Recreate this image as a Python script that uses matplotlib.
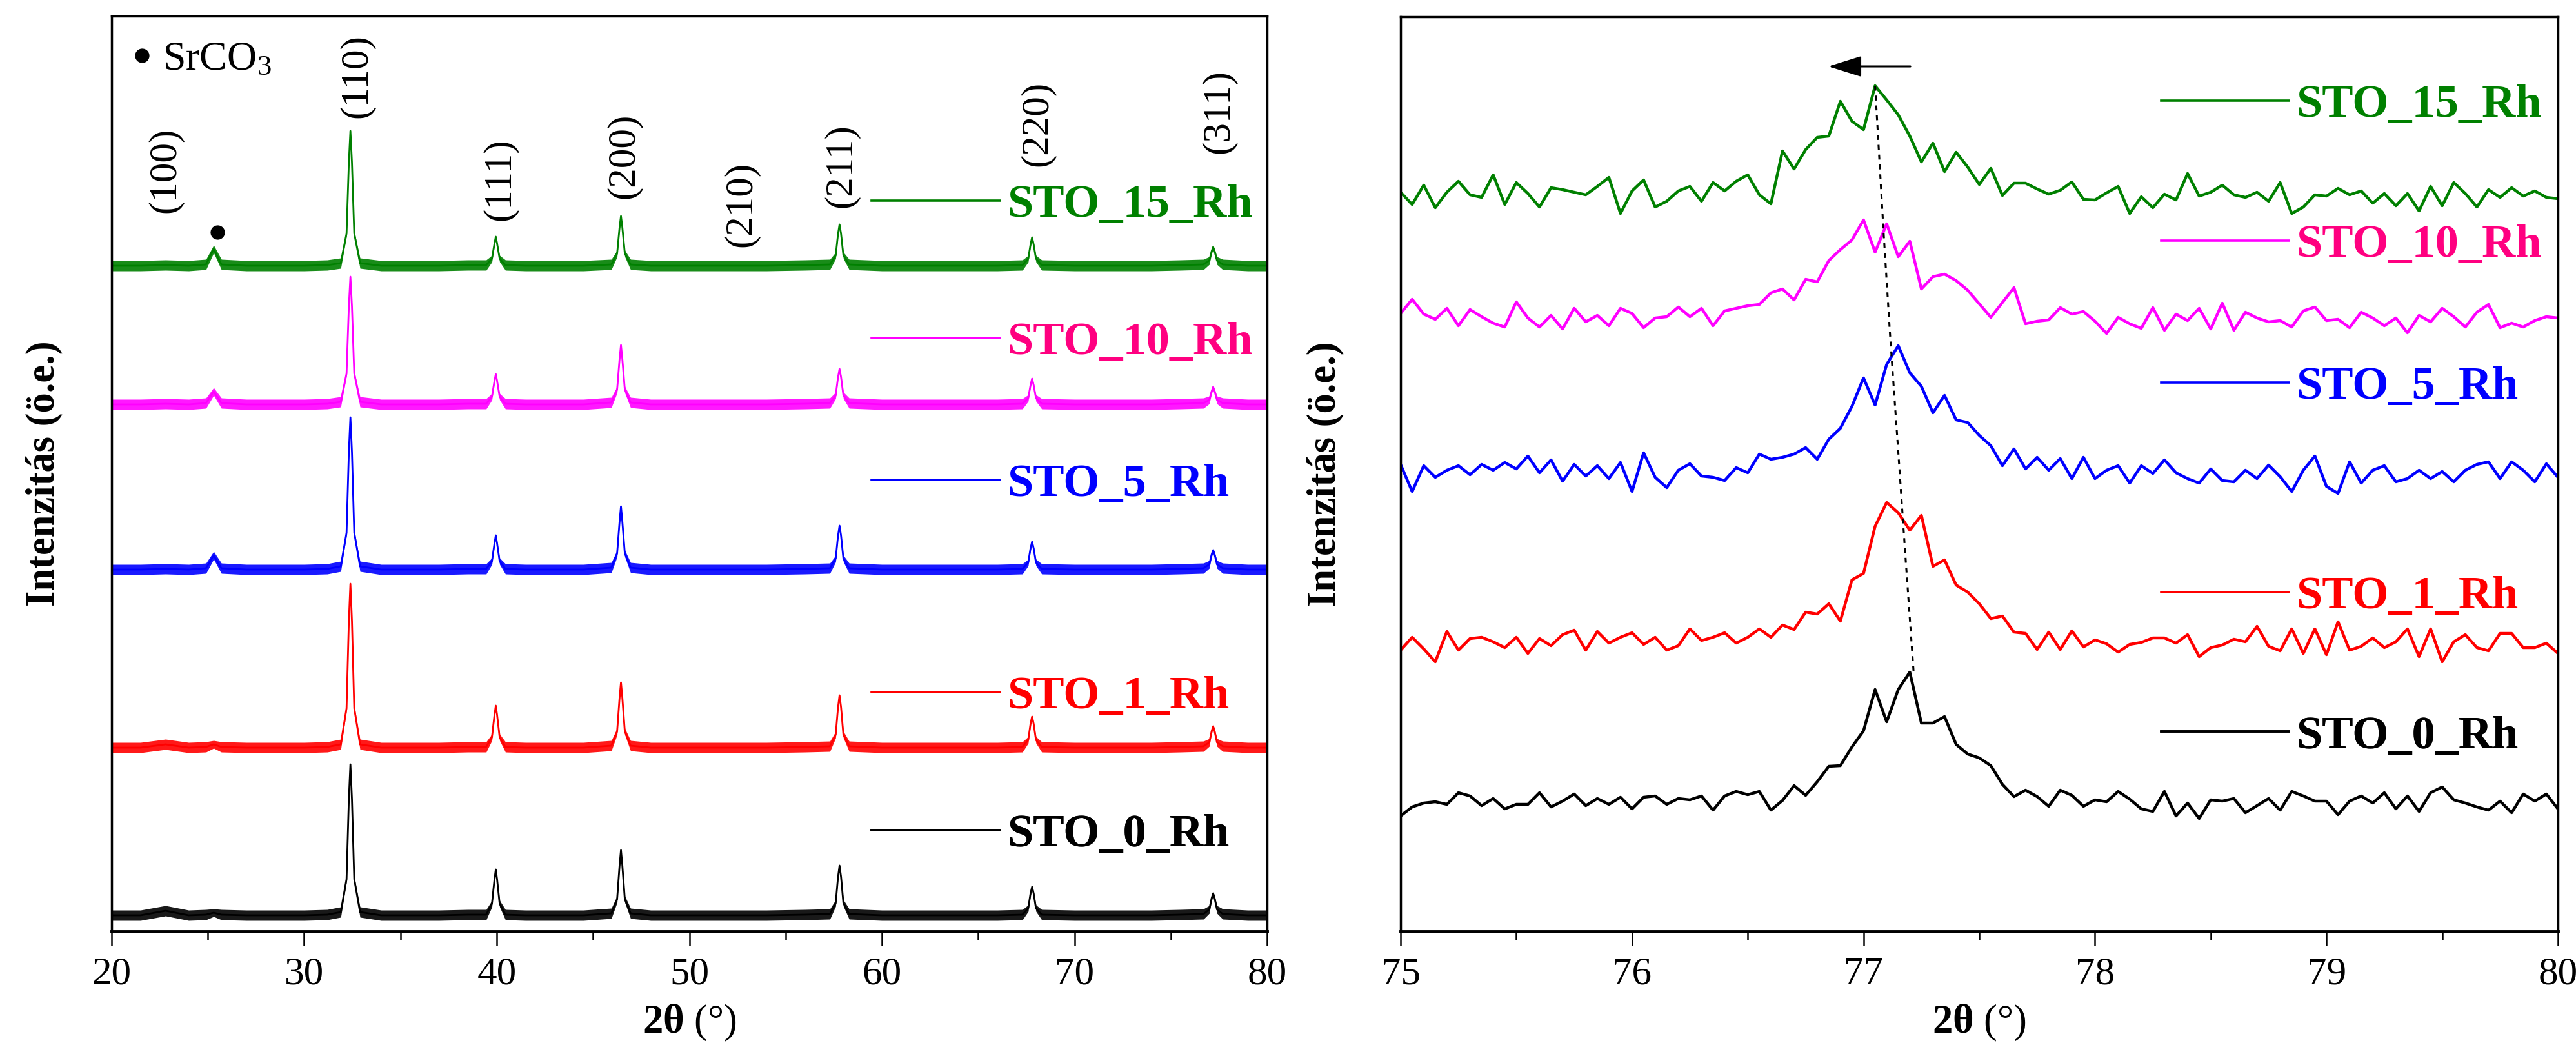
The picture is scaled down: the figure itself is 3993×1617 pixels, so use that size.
import matplotlib
matplotlib.use("Agg")
from matplotlib import pyplot as plt
from matplotlib.lines import Line2D
from matplotlib.ticker import MultipleLocator
import numpy as np

plt.rcParams['font.family'] = ['Liberation Serif', 'DejaVu Serif']
plt.rcParams['mathtext.fontset'] = 'custom'
plt.rcParams['mathtext.rm'] = 'Liberation Serif'
plt.rcParams['mathtext.it'] = 'Liberation Serif:italic'
plt.rcParams['mathtext.bf'] = 'Liberation Serif:bold'

names = ["STO_15_Rh", "STO_10_Rh", "STO_5_Rh", "STO_1_Rh", "STO_0_Rh"]
line_colors = ["#008000", "#FF00FF", "#0000FF", "#FF0000", "#000000"]
text_colors = ["#008000", "#FF0080", "#0000FF", "#FF0000", "#000000"]

# ---- full scan 20-80 deg (heights above each baseline)
wide_x = [20.0, 21.5, 22.8, 24.0, 24.9, 25.3, 25.7, 27.0, 28.5, 30.0, 31.2,
          31.9, 32.2, 32.32, 32.4, 32.48, 32.6, 32.9,
          34.0, 35.5, 37.0, 38.5, 39.45, 39.75, 39.88, 39.95, 40.02, 40.15, 40.45,
          41.5, 43.0, 44.5, 45.95, 46.25, 46.38, 46.45, 46.52, 46.65, 46.95,
          48.0, 50.0, 52.0, 54.0, 56.0, 57.3, 57.6, 57.72, 57.8, 57.88, 58.0, 58.3,
          60.0, 62.0, 64.0, 66.0, 67.3, 67.6, 67.72, 67.8, 67.88, 68.0, 68.3,
          70.0, 72.0, 74.0, 75.5, 76.7, 77.0, 77.12, 77.2, 77.28, 77.4, 77.7, 79.0, 80.0]
wide_15 = [0, 0, 1, 0, 2, 26, 2, 0, 0, 0, 1,
           4, 50, 160, 209, 160, 50, 4,
           0, 0, 0, 1, 1, 11, 34, 45, 34, 11, 1,
           0, 0, 0, 2, 19, 60, 77, 60, 19, 2,
           0, 0, 0, 0, 1, 2, 16, 49, 64, 49, 16, 2,
           0, 0, 0, 0, 1, 11, 33, 44, 33, 11, 1,
           0, 0, 0, 1, 2, 8, 22, 29, 22, 8, 2, 0, 0]
wide_10 = [0, 0, 1, 0, 2, 20, 2, 0, 0, 0, 1,
           4, 48, 152, 198, 152, 48, 4,
           0, 0, 0, 1, 1, 12, 36, 47, 36, 12, 1,
           0, 0, 0, 3, 23, 71, 92, 71, 23, 3,
           0, 0, 0, 0, 1, 2, 14, 42, 55, 42, 14, 2,
           0, 0, 0, 0, 1, 10, 30, 40, 30, 10, 1,
           0, 0, 0, 1, 2, 7, 20, 27, 20, 7, 2, 0, 0]
wide_5 = [0, 0, 1, 0, 2, 22, 2, 0, 0, 0, 1,
          5, 57, 182, 236, 182, 57, 5,
          0, 0, 0, 1, 1, 13, 40, 53, 40, 13, 1,
          0, 0, 0, 3, 25, 75, 98, 75, 25, 3,
          0, 0, 0, 0, 1, 2, 17, 52, 68, 52, 17, 2,
          0, 0, 0, 0, 1, 11, 33, 43, 33, 11, 1,
          0, 0, 0, 1, 2, 8, 23, 30, 23, 8, 2, 0, 0]
wide_1 = [0, 0, 5, 0, 1, 5, 1, 0, 0, 0, 1,
          5, 61, 196, 254, 196, 61, 5,
          0, 0, 0, 1, 1, 16, 50, 65, 50, 16, 1,
          0, 0, 0, 3, 25, 78, 101, 78, 25, 3,
          0, 0, 0, 0, 1, 2, 20, 62, 81, 62, 20, 2,
          0, 0, 0, 0, 1, 12, 37, 48, 37, 12, 1,
          0, 0, 0, 1, 2, 8, 25, 33, 25, 8, 2, 0, 0]
wide_0 = [0, 0, 7, 0, 1, 4, 1, 0, 0, 0, 1,
          5, 56, 180, 234, 180, 56, 5,
          0, 0, 0, 1, 1, 18, 55, 71, 55, 18, 1,
          0, 0, 0, 3, 25, 78, 101, 78, 25, 3,
          0, 0, 0, 0, 1, 2, 19, 59, 77, 59, 19, 2,
          0, 0, 0, 0, 1, 11, 34, 44, 34, 11, 1,
          0, 0, 0, 1, 2, 9, 26, 34, 26, 9, 2, 0, 0]
# half width of the noise band around each trace
wide_noise = [8, 8, 8, 8, 8, 6, 8, 8, 8, 8, 8,
              8, 4, 2, 1, 2, 4, 8,
              8, 8, 8, 8, 8, 5, 3, 2, 3, 5, 8,
              8, 8, 8, 8, 5, 3, 2, 3, 5, 8,
              8, 8, 8, 8, 8, 8, 5, 3, 2, 3, 5, 8,
              8, 8, 8, 8, 8, 5, 3, 2, 3, 5, 8,
              8, 8, 8, 8, 8, 6, 4, 3, 4, 6, 8, 8, 8]
wide_offset = [1032, 817, 561, 285, 25]

hkl_labels = ["(100)", "(110)", "(111)", "(200)", "(210)", "(211)", "(220)", "(311)"]
hkl_x = [22.8, 32.74, 40.2, 46.6, 52.7, 57.9, 68.1, 77.5]
hkl_y = [1114, 1261, 1102, 1136, 1061, 1122, 1186, 1206]
srco3_x = 25.5
srco3_y = 1084

# ---- zoomed scan 75-80 deg, step 0.05
zoom_x = np.round(np.arange(75.0, 80.001, 0.05), 2)
zoom_15 = [4, -15, 15, -20, 4, 21, 0, -4, 31, -15,
           19, 2, -19, 11, 8, 4, 0, 13, 27, -29,
           6, 23, -19, -10, 6, 13, -10, 19, 6, 21,
           31, 0, -14, 68, 40, 70, 89, 91, 145, 114,
           101, 169, 147, 124, 91, 51, 80, 36, 66, 43,
           16, 41, -1, 18, 18, 9, 1, 7, 20, -7,
           -8, 3, 13, -29, -3, -20, 1, -8, 33, -2,
           4, 15, 0, -4, 4, -10, 19, -29, -19, 0,
           -2, 10, 0, 6, -13, 2, -17, 2, -25, 13,
           -17, 19, 2, -19, 8, -4, 11, -2, 6, -4, -6]
zoom_10 = [11, 33, 10, 2, 19, -8, 17, 6, -4, -10,
           29, 4, -10, 8, -13, 19, -2, 8, -8, 19,
           11, -11, 4, 6, 21, 6, 19, -8, 15, 19,
           23, 25, 43, 49, 32, 64, 60, 93, 110, 125,
           156, 106, 150, 99, 123, 49, 68, 72, 62, 47,
           26, 5, 28, 51, -5, -1, 1, 20, 10, 14,
           -1, -20, 5, -5, -12, 20, -15, 10, 0, 19,
           -13, 27, -15, 13, 4, -2, 0, -10, 15, 21,
           0, 2, -11, 13, 4, -8, 4, -19, 8, -2,
           19, 6, -10, 13, 25, -11, -4, -10, 0, 6, 4]
zoom_5 = [9, -33, 7, -11, 0, 7, -7, 9, 0, 12,
          2, 22, -4, 16, -17, 9, -9, 7, -13, 12,
          -33, 27, -11, -27, 0, 10, -9, -11, -16, 4,
          -4, 25, 17, 20, 25, 35, 17, 48, 65, 99,
          143, 101, 164, 193, 151, 130, 89, 116, 78, 74,
          54, 38, 7, 33, 2, 20, 0, 18, -13, 20,
          -13, 0, 7, -20, 7, -5, 16, -4, -13, -20,
          2, -16, -18, 0, -13, 8, -10, -33, 0, 22,
          -25, -36, 13, -20, 0, 7, -18, -13, 0, -13,
          -2, -18, 0, 9, 13, -13, 13, 0, -18, 10, -11]
zoom_1 = [-11, 9, -9, -29, 18, -11, 7, 9, 2, -7,
          9, -16, 7, -4, 13, 20, -11, 18, 0, 9,
          16, -2, 9, -11, -4, 22, 4, 9, 16, 0,
          9, 22, 9, 28, 21, 48, 45, 61, 34, 98,
          108, 181, 218, 202, 175, 198, 119, 129, 90, 79,
          61, 38, 42, 17, 15, -10, 17, -10, 19, -6,
          5, -1, -14, -2, 1, 8, 8, 0, 13, -21,
          -7, -3, 6, 2, 26, -5, -12, 22, -16, 22,
          -18, 33, -11, -5, 8, -7, 2, 22, -21, 22,
          -29, 2, 13, -7, -12, 15, 15, -7, -7, 0, -16]
zoom_0 = [-27, -13, -7, -5, -9, 9, 4, -11, 0, -16,
          -9, -9, 9, -13, -4, 7, -11, 0, -9, 2,
          -16, 2, 4, -9, 0, -2, 4, -18, 4, 11,
          6, 11, -18, -3, 20, 5, 26, 50, 51, 80,
          105, 169, 119, 169, 196, 117, 117, 127, 84, 69,
          63, 51, 22, 3, 13, 3, -12, 13, 5, -12,
          -2, -5, 11, -1, -16, -20, 11, -27, -7, -31,
          -2, -4, 0, -22, -11, 0, -18, 11, 4, -4,
          -4, -25, -4, 4, -7, 9, -16, 4, -20, 9,
          18, -2, -7, -13, -18, -4, -22, 7, -4, 7, -16]
zoom_offset = [1142, 947, 715, 447, 206]

# peak-shift guide (dotted) and arrow
shift_x = [77.05, 77.088, 77.115, 77.15, 77.18, 77.216]
shift_y = [1311, 1076, 923, 744, 587, 404]
arrow_from = 77.21
arrow_to = 76.84
arrow_y = 1341

wide_sets = [wide_15, wide_10, wide_5, wide_1, wide_0]
zoom_sets = [zoom_15, zoom_10, zoom_5, zoom_1, zoom_0]

fig = plt.figure(figsize=(39.93, 16.17), dpi=100)
ax1 = fig.add_axes([173 / 3993, 173 / 1617, 1791 / 3993, 1419 / 1617])
ax2 = fig.add_axes([2171 / 3993, 173 / 1617, 1794 / 3993, 1418 / 1617])

legend_font = {'family': 'Liberation Serif', 'weight': 'bold', 'size': 52}


def add_key(ax, x0, y0, name, lc, tc):
    h = Line2D([], [], color=lc, lw=2.6)
    leg = ax.legend([h], [name], loc='center left', bbox_to_anchor=(x0, y0),
                    frameon=False, handlelength=2.75, handletextpad=0.15,
                    borderpad=0, borderaxespad=0, prop=legend_font)
    for t in leg.get_texts():
        t.set_color(tc)
    ax.add_artist(leg)


# left panel
noise = np.array(wide_noise)
for vals, off, c in zip(wide_sets, wide_offset, line_colors):
    y = np.array(vals) + off
    ax1.fill_between(wide_x, y - noise, y + noise, color=c, lw=0, alpha=0.9)
    ax1.plot(wide_x, y, color=c, lw=2)

for lab, x, y in zip(hkl_labels, hkl_x, hkl_y):
    ax1.text(x, y, lab, rotation=90, ha='center', va='bottom', fontsize=44)
ax1.plot(srco3_x, srco3_y, 'o', color='k', ms=15)

h = Line2D([], [], marker='o', ls='none', color='k', ms=15)
leg = ax1.legend([h], ['SrCO$_3$'], loc='center left', bbox_to_anchor=(0.012, 0.952),
                 frameon=False, handlelength=0.8, handletextpad=0.1, borderpad=0,
                 borderaxespad=0, prop={'size': 46})
ax1.add_artist(leg)

left_keys_y = [0.7935, 0.643, 0.488, 0.2565, 0.1057]
for n, lc, tc, ky in zip(names, line_colors, text_colors, left_keys_y):
    add_key(ax1, 0.658, ky, n, lc, tc)

ax1.set_xlim(20, 80)
ax1.set_ylim(0, 1419)
ax1.xaxis.set_major_locator(MultipleLocator(10))
ax1.xaxis.set_minor_locator(MultipleLocator(5))

# right panel
for vals, off, c in zip(zoom_sets, zoom_offset, line_colors):
    ax2.plot(zoom_x, np.array(vals) + off, color=c, lw=3.2)

ax2.plot(shift_x, shift_y, color='k', lw=2.2, ls=(0, (2.5, 2.5)))
ax2.annotate('', xy=(arrow_to, arrow_y), xytext=(arrow_from, arrow_y),
             arrowprops=dict(arrowstyle='-|>,head_length=1.6,head_width=0.5',
                             color='k', lw=2.2, mutation_scale=20))

right_keys_y = [0.903, 0.750, 0.595, 0.366, 0.213]
for n, lc, tc, ky in zip(names, line_colors, text_colors, right_keys_y):
    add_key(ax2, 0.657, ky, n, lc, tc)

ax2.set_xlim(75, 80)
ax2.set_ylim(0, 1418)
ax2.xaxis.set_major_locator(MultipleLocator(1))
ax2.xaxis.set_minor_locator(MultipleLocator(0.5))

for ax, lx in ((ax1, -0.042), (ax2, -0.049)):
    ax.set_yticks([])
    ax.tick_params(axis='x', which='major', direction='out', length=16, width=1.8,
                   labelsize=44, pad=12)
    ax.tick_params(axis='x', which='minor', direction='out', length=9, width=1.8)
    for s in ax.spines.values():
        s.set_linewidth(2.5)
    ax.spines['bottom'].set_linewidth(3.5)
    ax.set_ylabel('Intenzitás (ö.e.)', fontsize=45, fontweight='bold')
    ax.yaxis.set_label_coords(lx, 0.5)
    ax.set_xlabel(r'$\mathbf{2θ}$ (°)', fontsize=45)
    ax.xaxis.set_label_coords(0.5, -0.078)

plt.savefig("out.png", dpi=100)
